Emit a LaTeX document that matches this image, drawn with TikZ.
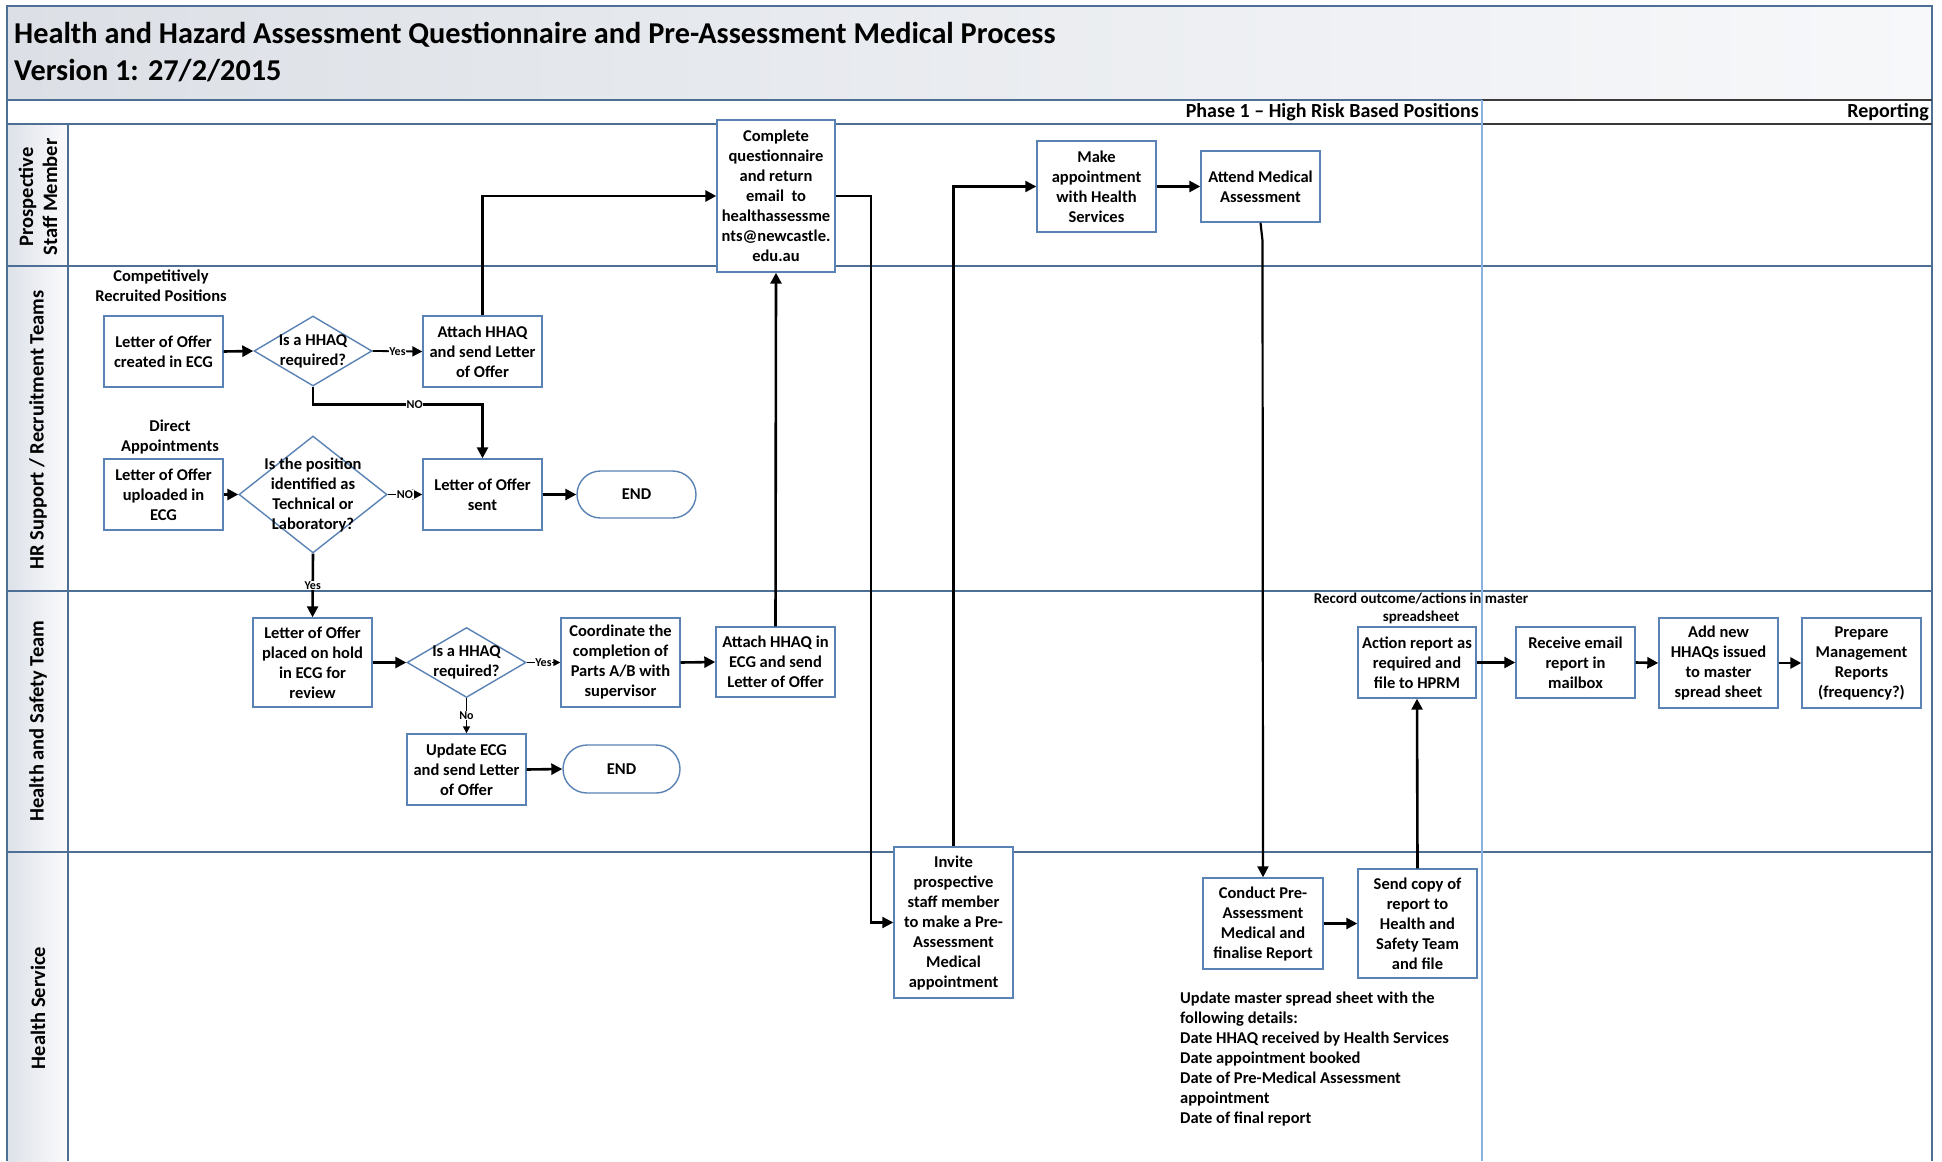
\documentclass[tikz,border=0pt]{standalone}
\usepackage{fontspec}
\setmainfont{Carlito}
\usetikzlibrary{arrows.meta,shapes.geometric}
\definecolor{boxblue}{HTML}{5A82B4}
\definecolor{framec}{HTML}{4D6F95}
\definecolor{divc}{HTML}{8CB2DF}
\definecolor{darkc}{HTML}{3A3A3A}
\definecolor{titL}{HTML}{DCE0E6}
\definecolor{titR}{HTML}{F7F8FA}
\definecolor{hdL}{HTML}{DDE1E8}
\definecolor{hdR}{HTML}{FBFBFC}
\newcommand{\bxf}{\fontsize{16.5}{20}\selectfont\bfseries}
\newcommand{\smf}{\fontsize{12}{14}\selectfont\bfseries}
\newcommand{\ttf}{\fontsize{30.3}{36}\selectfont\bfseries}
\newcommand{\hdf}{\fontsize{20}{24}\selectfont\bfseries}
\newcommand{\rcf}{\fontsize{15}{17.5}\selectfont\bfseries}
\newcommand{\lnf}{\fontsize{20.5}{24}\selectfont\bfseries}
\tikzset{
  box/.style={draw=boxblue, line width=1.4pt, fill=white, align=center, inner sep=0pt, font=\bxf},
  dia/.style={diamond, draw=boxblue, line width=1.4pt, fill=white, inner sep=0pt},
  txt/.style={align=center, inner sep=0pt, font=\bxf},
  arr/.style={line width=2.6pt, -{Triangle[length=11pt,width=11pt]}},
  arrmid/.style={line width=1.8pt, -{Triangle[length=10pt,width=10pt]}},
  arrthin/.style={line width=1.5pt, -{Triangle[length=7pt,width=7pt]}},
  lbl/.style={font=\smf, fill=white, inner sep=0.6pt},
  frame/.style={draw=framec, line width=2pt},
  lanelbl/.style={rotate=90, align=center, inner sep=0pt, font=\lnf},
}
\begin{document}
\begin{tikzpicture}[x=1pt,y=-1pt]
\useasboundingbox (0,0) rectangle (1942,1161);
% ---------- background structure ----------
\shade[left color=titL, right color=titR] (7,6) rectangle (1932,100);
\foreach \a/\b in {124/266,266/591,591/852,852/1161}
  \shade[left color=hdL, right color=hdR] (7,\a) rectangle (68,\b);
\draw[frame] (7,1161) -- (7,6) -- (1932,6) -- (1932,1161);
\draw[frame] (7,100) -- (1482,100);
\draw[frame] (7,124) -- (1482,124);
\draw[draw=darkc, line width=2pt] (1482,100) -- (1932,100);
\draw[draw=darkc, line width=2pt] (1482,124) -- (1932,124);
\draw[frame] (7,266) -- (1932,266);
\draw[frame] (7,591) -- (1932,591);
\draw[frame] (7,852) -- (1932,852);
\draw[frame] (68,124) -- (68,1161);
\draw[draw=divc, line width=1.6pt] (1482,100) -- (1482,1161);
% ---------- title and headers ----------
\node[anchor=west, inner sep=0pt, font=\ttf] (title1) at (14,35) {Health and Hazard Assessment Questionnaire and Pre-Assessment Medical Process};
\node[anchor=west, inner sep=0pt, font=\ttf] (title2) at (14,71) {Version 1: 27/2/2015};
\node[anchor=east, inner sep=0pt, font=\hdf] (phase1) at (1479,112) {Phase 1 – High Risk Based Positions};
\node[anchor=east, inner sep=0pt, font=\hdf] (reporting) at (1929,112) {Reporting};
% ---------- lane labels ----------
\node[lanelbl] (lane1) at (38,197) {Prospective\\Staff Member};
\node[lanelbl] (lane2) at (38,430) {HR Support / Recruitment Teams};
\node[lanelbl] (lane3) at (38,721) {Health and Safety Team};
\node[lanelbl] (lane4) at (38,1008) {Health Service};
% ---------- annotations ----------
\node[txt] (compet) at (161,286) {Competitively\\Recruited Positions};
\node[txt] (direct) at (170,437) {Direct\\Appointments};
\node[txt, font=\rcf] (record) at (1421,608.5) {Record outcome/actions in master\\spreadsheet};
\node[txt, align=left, anchor=west] (update) at (1180,1058.5) {Update master spread sheet with the\\following details:\\Date HHAQ received by Health Services\\Date appointment booked\\Date of Pre-Medical Assessment\\appointment\\Date of final report};
% ---------- HR lane ----------
\node[box, minimum width=119pt, minimum height=71pt] (created) at (163.5,351.5) {Letter of Offer\\created in ECG};
\node[dia, minimum width=118pt, minimum height=70pt] (d1) at (313,351) {};
\node[txt] (d1t) at (313,351) {Is a HHAQ\\required?};
\node[box, minimum width=119pt, minimum height=71pt] (attach1) at (482.5,351.5) {Attach HHAQ\\and send Letter\\of Offer};
\node[box, minimum width=119pt, minimum height=71pt] (uploaded) at (163.5,494.5) {Letter of Offer\\uploaded in\\ECG};
\node[dia, minimum width=148pt, minimum height=117pt] (d2) at (313,494.5) {};
\node[txt] (d2t) at (313,495) {Is the position\\identified as\\Technical or\\Laboratory?};
\node[box, minimum width=119pt, minimum height=71pt] (sent) at (482.5,494.5) {Letter of Offer\\sent};
\node[box, rounded corners=23.5pt, minimum width=119pt, minimum height=47pt] (end1) at (636.5,494.5) {END};
% ---------- Prospective lane ----------
\node[box, minimum width=118pt, minimum height=152pt] (complete) at (776,196) {Complete\\questionnaire\\and return\\email\ \ to\\healthassessme\\nts@newcastle.\\edu.au};
\node[box, minimum width=119pt, minimum height=91pt] (make) at (1096.5,186.5) {Make\\appointment\\with Health\\Services};
\node[box, minimum width=119pt, minimum height=71pt] (attend) at (1260.5,186.5) {Attend Medical\\Assessment};
% ---------- Health and Safety lane ----------
\node[box, minimum width=119pt, minimum height=89pt] (hold) at (312.5,662.5) {Letter of Offer\\placed on hold\\in ECG for\\review};
\node[dia, minimum width=119pt, minimum height=70pt] (d3) at (466.5,662.5) {};
\node[txt] (d3t) at (466.5,662.5) {Is a HHAQ\\required?};
\node[box, minimum width=119pt, minimum height=89pt] (coord) at (620.5,662.5) {Coordinate the\\completion of\\Parts A/B with\\supervisor};
\node[box, minimum width=119pt, minimum height=70pt] (attach2) at (775.5,662) {Attach HHAQ in\\ECG and send\\Letter of Offer};
\node[box, minimum width=119pt, minimum height=71pt] (updecg) at (466.5,769.5) {Update ECG\\and send Letter\\of Offer};
\node[box, rounded corners=24pt, minimum width=117pt, minimum height=48pt] (end2) at (621.5,769) {END};
\node[box, minimum width=118pt, minimum height=71pt] (action) at (1417,662.5) {Action report as\\required and\\file to HPRM};
\node[box, minimum width=119pt, minimum height=71pt] (receive) at (1575.5,662.5) {Receive email\\report in\\mailbox};
\node[box, minimum width=119pt, minimum height=90pt] (addnew) at (1718.5,663) {Add new\\HHAQs issued\\to master\\spread sheet};
\node[box, minimum width=119pt, minimum height=90pt] (prepare) at (1861.5,663) {Prepare\\Management\\Reports\\(frequency?)};
% ---------- Health Service lane ----------
\node[box, minimum width=119pt, minimum height=151pt] (invite) at (953.5,922.5) {Invite\\prospective\\staff member\\to make a Pre-\\Assessment\\Medical\\appointment};
\node[box, minimum width=120pt, minimum height=91pt] (conduct) at (1263,923.5) {Conduct Pre-\\Assessment\\Medical and\\finalise Report};
\node[box, minimum width=119pt, minimum height=109pt] (sendcopy) at (1417.5,923.5) {Send copy of\\report to\\Health and\\Safety Team\\and file};
% ---------- connectors ----------
\draw[arr] (created.east) -- (d1.west);
\draw[arrmid] (d1.east) -- node[lbl]{Yes} (attach1.west);
\draw[arr] (d1.south) -- ++(0,18) -| node[lbl, pos=0.3]{NO} (sent.north);
\draw[arr] (uploaded.east) -- (d2.west);
\draw[arrmid] (d2.east) -- node[lbl]{NO} (sent.west);
\draw[arr] (sent.east) -- (end1.west);
\draw[arr] (d2.south) -- node[lbl]{Yes} (hold.north);
\draw[arr] (attach1.north) |- (complete.west);
\draw[arr] (hold.east) -- (d3.west);
\draw[arrthin] (d3.east) -- node[lbl]{Yes} (coord.west);
\draw[arrthin] (d3.south) -- node[lbl]{No} (updecg.north);
\draw[arr] (updecg.east) -- (end2.west);
\draw[arr] (coord.east) -- (attach2.west);
\draw[arr] (attach2.north) -- (complete.south);
\draw[arr, line width=2.2pt] (complete.east) -- ++(35,0) |- (invite.west);
\draw[arr, line width=2.2pt] (invite.north) |- (make.west);
\draw[arr] (make.east) -- (attend.west);
\draw[arr, line width=2.2pt] (attend.south) -- ++(2,18) -- (conduct.north);
\draw[arr] (conduct.east) -- (sendcopy.west);
\draw[arr] (sendcopy.north) -- (action.south);
\draw[arr] (action.east) -- (receive.west);
\draw[arr] (receive.east) -- (addnew.west);
\draw[arr] (addnew.east) -- (prepare.west);
\end{tikzpicture}
\end{document}
